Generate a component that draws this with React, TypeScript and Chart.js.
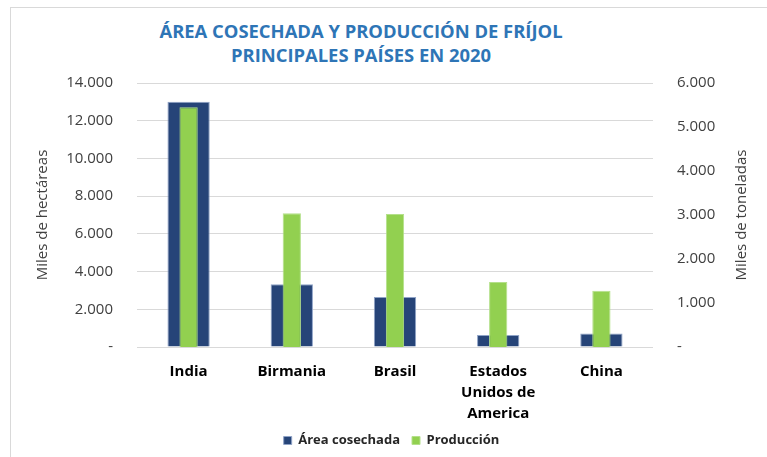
import React, { useEffect, useRef } from "react";
import { Chart, registerables } from "chart.js";

Chart.register(...registerables);

const categories: (string | string[])[] = ["India", "Birmania", "Brasil", ["Estados", "Unidos de", "America"], "China"];
const areaCosechada = [13000, 3330, 2650, 640, 710];
const produccion = [5450, 3040, 3020, 1480, 1280];
const titleLines = ["ÁREA COSECHADA Y PRODUCCIÓN DE FRÍJOL", "PRINCIPALES PAÍSES EN 2020"];
const leftTitle = "Miles de hectáreas";
const rightTitle = "Miles de toneladas";

const FONT = "'Open Sans', sans-serif";

const fmt = (v: number) => (v === 0 ? "-" : String(v).replace(/\B(?=(\d{3})+(?!\d))/g, "."));

export default function App() {
  const ref = useRef<HTMLCanvasElement | null>(null);

  useEffect(() => {
    if (!ref.current) return;
    const chart = new Chart(ref.current, {
      type: "bar",
      data: {
        labels: categories,
        datasets: [
          {
            label: "Área cosechada",
            data: areaCosechada,
            backgroundColor: "#264478",
            borderColor: "#8FA3C7",
            borderWidth: 1,
            yAxisID: "y",
            barPercentage: 0.41,
            categoryPercentage: 1,
            grouped: false,
            order: 2,
          },
          {
            label: "Producción",
            data: produccion,
            backgroundColor: "#92D050",
            borderColor: "#B4E08A",
            borderWidth: 1,
            yAxisID: "y1",
            barPercentage: 0.177,
            categoryPercentage: 1,
            grouped: false,
            order: 1,
          },
        ],
      },
      options: {
        responsive: false,
        animation: false,
        layout: { padding: { top: 83, left: 34, right: 18, bottom: 0 } },
        plugins: {
          title: { display: false },
          tooltip: { enabled: false },
          legend: {
            position: "bottom",
            labels: {
              boxWidth: 8,
              boxHeight: 8,
              padding: 12,
              color: "#262626",
              font: { family: FONT, size: 13, weight: "bold" },
              sort: (a: any, b: any) => a.datasetIndex - b.datasetIndex,
            },
          },
        },
        scales: {
          x: {
            grid: { display: false, drawTicks: false },
            border: { display: false },
            ticks: {
              color: "#000000",
              padding: 14,
              maxRotation: 0,
              autoSkip: false,
              font: { family: FONT, size: 15, weight: "bold", lineHeight: 1.4 },
            },
            afterFit: (s: any) => {
              s.height = 75;
            },
          },
          y: {
            position: "left",
            min: 0,
            max: 14000,
            ticks: {
              stepSize: 2000,
              padding: 24,
              color: "#404040",
              font: { family: FONT, size: 15 },
              callback: (v: any) => fmt(Number(v)),
            },
            grid: { color: "#D9D9D9", lineWidth: 1, drawTicks: false },
            border: { display: false },
            title: {
              display: true,
              text: leftTitle,
              color: "#404040",
              padding: 0,
              font: { family: FONT, size: 15 },
            },
            afterFit: (s: any) => {
              s.width = 103;
            },
          },
          y1: {
            position: "right",
            min: 0,
            max: 6000,
            ticks: {
              stepSize: 1000,
              padding: 24,
              color: "#404040",
              font: { family: FONT, size: 15 },
              callback: (v: any) => fmt(Number(v)),
            },
            grid: { display: false, drawTicks: false },
            border: { display: false },
            title: { display: false },
            afterFit: (s: any) => {
              s.width = 96;
            },
          },
        },
      },
    } as any);
    return () => chart.destroy();
  }, []);

  return (
    <div style={{ position: "absolute", left: 0, top: 0, width: 767, height: 457, background: "#fff", overflow: "hidden" }}>
      <div
        style={{
          position: "absolute",
          left: 10,
          top: 7,
          width: 760,
          height: 470,
          border: "1px solid #D9D9D9",
          boxSizing: "border-box",
        }}
      />
      <div
        style={{
          position: "absolute",
          left: 0,
          top: 19,
          width: 722,
          textAlign: "center",
          fontFamily: FONT,
          fontWeight: "bold",
          fontSize: 18.4,
          lineHeight: "24px",
          color: "#2E75B6",
        }}
      >
        {titleLines.map((t, i) => (
          <div key={i}>{t}</div>
        ))}
      </div>
      <canvas ref={ref} width={767} height={457} style={{ position: "absolute", left: 0, top: 0 }} />
      <div
        style={{
          position: "absolute",
          left: 740 - 100,
          top: 215 - 10,
          width: 200,
          height: 20,
          lineHeight: "20px",
          textAlign: "center",
          fontFamily: FONT,
          fontSize: 15,
          color: "#404040",
          transform: "rotate(-90deg)",
          transformOrigin: "50% 50%",
          whiteSpace: "nowrap",
        }}
      >
        {rightTitle}
      </div>
    </div>
  );
}
